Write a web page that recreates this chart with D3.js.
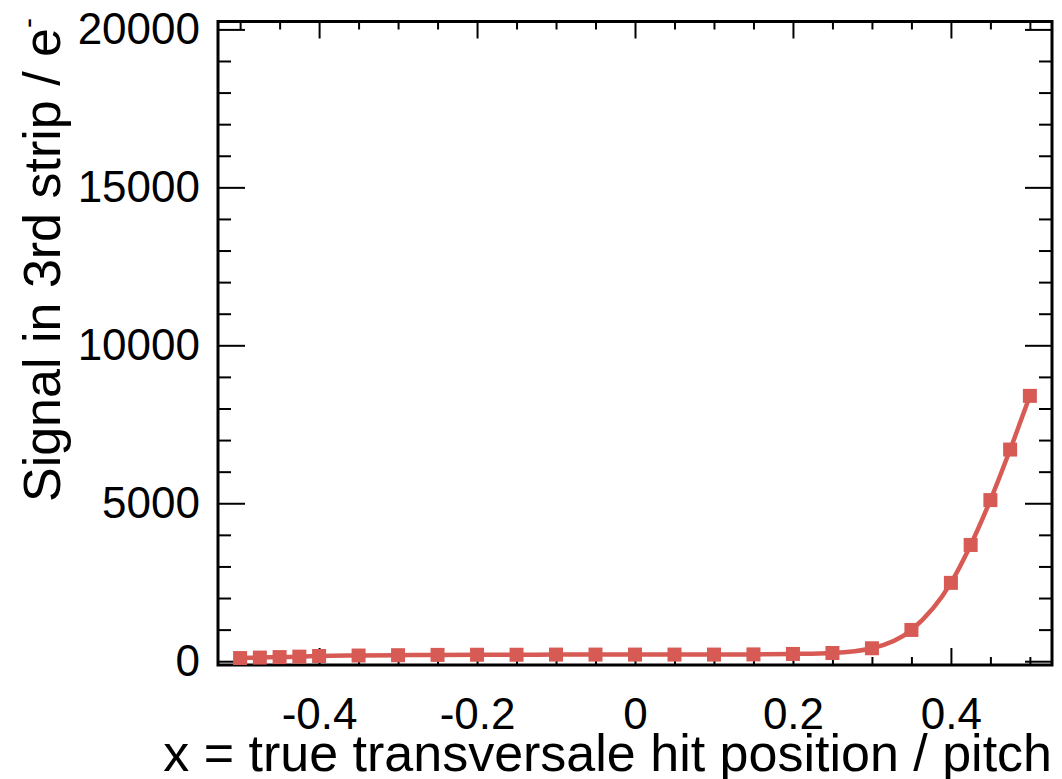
<!DOCTYPE html>
<html>
<head>
<meta charset="utf-8">
<script src="https://cdn.jsdelivr.net/npm/d3@7"></script>
<style>
  html, body { margin: 0; padding: 0; background: #fff; }
  svg text { font-family: "Liberation Sans", Arial, Helvetica, sans-serif; fill: #000; }
</style>
</head>
<body>
<div id="chart"></div>
<script>
// hit position (fraction of pitch) and signal in 3rd strip (electrons)
const positions = [-0.5, -0.475, -0.45, -0.425, -0.4, -0.35, -0.3, -0.25, -0.2, -0.15, -0.1, -0.05,
  0, 0.05, 0.1, 0.15, 0.2, 0.25, 0.3, 0.35, 0.4, 0.425, 0.45, 0.475, 0.5];
const signal = [100, 115, 130, 145, 165, 180, 190, 200, 205, 205, 210, 210,
  210, 210, 210, 215, 230, 260, 410, 990, 2480, 3680, 5100, 6700, 8400];

const xMajorTicks = [-0.4, -0.2, 0, 0.2, 0.4];
const xTickLabels = ['-0.4', '-0.2', '0', '0.2', '0.4'];
const xMinorTicks = [-0.5, -0.45, -0.35, -0.3, -0.25, -0.15, -0.1, -0.05, 0.05, 0.1, 0.15, 0.25, 0.3, 0.35, 0.45, 0.5];
const yMajorTicks = [0, 5000, 10000, 15000, 20000];
const yMinorTicks = [1000, 2000, 3000, 4000, 6000, 7000, 8000, 9000, 11000, 12000, 13000, 14000, 16000, 17000, 18000, 19000];

const width = 1062, height = 779;
const plot = { left: 218, right: 1052, top: 21.5, bottom: 665 };
const color = '#d75a55';

const svg = d3.select('#chart').append('svg')
  .attr('width', width)
  .attr('height', height);

const x = d3.scaleLinear().domain([-0.528, 0.528]).range([plot.left, plot.right]);
const y = d3.scaleLinear().domain([-120, 20250]).range([plot.bottom, plot.top]);

function styleAxis(g) {
  g.select('.domain').remove();
  g.selectAll('.tick line').attr('stroke', '#000').attr('stroke-width', 2);
  g.selectAll('.tick text').attr('font-size', 44);
}

// bottom axis
svg.append('g')
  .attr('transform', `translate(0,${plot.bottom})`)
  .call(d3.axisBottom(x).tickValues(xMinorTicks).tickSize(-8).tickFormat(''))
  .call(styleAxis);
svg.append('g')
  .attr('transform', `translate(0,${plot.bottom})`)
  .call(d3.axisBottom(x).tickValues(xMajorTicks).tickSize(-17)
    .tickFormat((d, i) => xTickLabels[i]))
  .call(styleAxis)
  .call(g => g.selectAll('.tick text').attr('dy', '0.71em').attr('y', 33));

// top axis
svg.append('g')
  .attr('transform', `translate(0,${plot.top})`)
  .call(d3.axisTop(x).tickValues(xMinorTicks).tickSize(-8).tickFormat(''))
  .call(styleAxis);
svg.append('g')
  .attr('transform', `translate(0,${plot.top})`)
  .call(d3.axisTop(x).tickValues(xMajorTicks).tickSize(-17).tickFormat(''))
  .call(styleAxis);

// left axis
svg.append('g')
  .attr('transform', `translate(${plot.left},0)`)
  .call(d3.axisLeft(y).tickValues(yMinorTicks).tickSize(-13).tickFormat(''))
  .call(styleAxis);
svg.append('g')
  .attr('transform', `translate(${plot.left},0)`)
  .call(d3.axisLeft(y).tickValues(yMajorTicks).tickSize(-27).tickFormat(d3.format('d')))
  .call(styleAxis)
  .call(g => g.selectAll('.tick text').attr('x', -18));

// right axis
svg.append('g')
  .attr('transform', `translate(${plot.right},0)`)
  .call(d3.axisRight(y).tickValues(yMinorTicks).tickSize(-13).tickFormat(''))
  .call(styleAxis);
svg.append('g')
  .attr('transform', `translate(${plot.right},0)`)
  .call(d3.axisRight(y).tickValues(yMajorTicks).tickSize(-27).tickFormat(''))
  .call(styleAxis);

// frame
svg.append('rect')
  .attr('x', plot.left)
  .attr('y', plot.top)
  .attr('width', plot.right - plot.left)
  .attr('height', plot.bottom - plot.top)
  .attr('fill', 'none')
  .attr('stroke', '#000')
  .attr('stroke-width', 3);

// smooth curve through the points
const line = d3.line()
  .x((d, i) => x(positions[i]))
  .y(d => y(d))
  .curve(d3.curveMonotoneX);

svg.append('path')
  .datum(signal)
  .attr('fill', 'none')
  .attr('stroke', color)
  .attr('stroke-width', 4.5)
  .attr('d', line);

// square markers
const ms = 14;
svg.append('g')
  .selectAll('rect')
  .data(signal)
  .join('rect')
  .attr('x', (d, i) => x(positions[i]) - ms / 2)
  .attr('y', d => y(d) - ms / 2)
  .attr('width', ms)
  .attr('height', ms)
  .attr('fill', color);

// axis titles
svg.append('text')
  .attr('x', plot.right)
  .attr('y', 771)
  .attr('text-anchor', 'end')
  .attr('font-size', 52)
  .text('x = true transversale hit position / pitch');

const yTitle = svg.append('text')
  .attr('transform', 'translate(60,18) rotate(-90)')
  .attr('text-anchor', 'end')
  .attr('font-size', 52)
  .text('Signal in 3rd strip / e');
yTitle.append('tspan')
  .attr('dy', -22)
  .attr('font-size', 30)
  .text('-');
</script>
</body>
</html>
